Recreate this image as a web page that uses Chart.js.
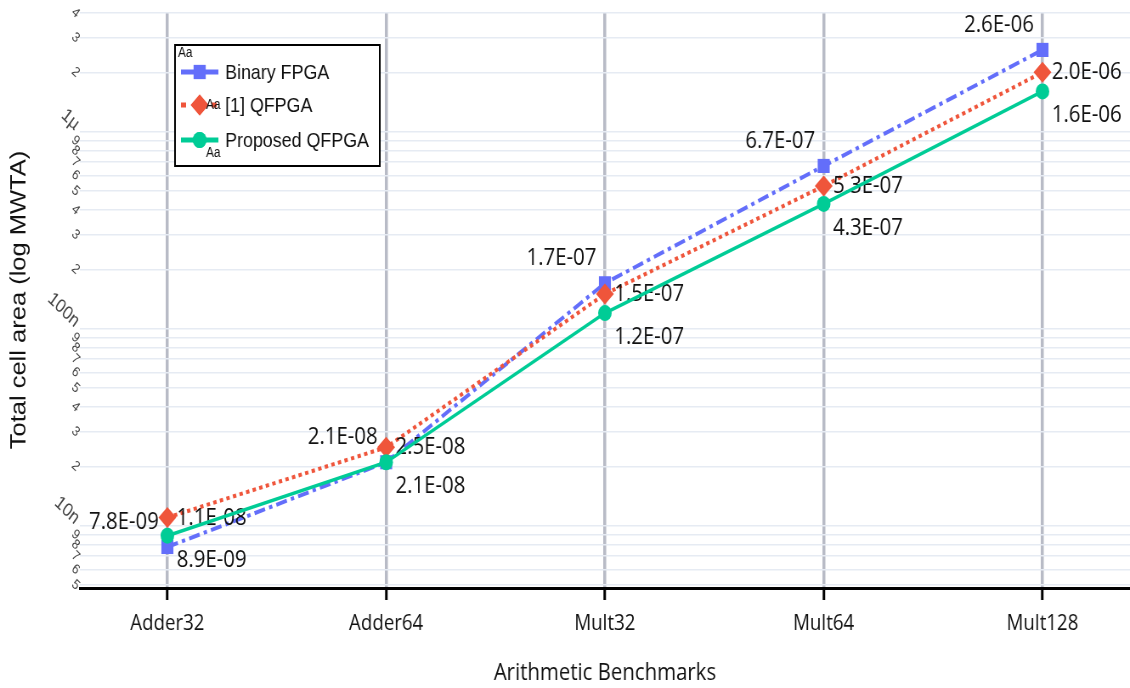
<!DOCTYPE html>
<html>
<head>
<meta charset="utf-8">
<script src="https://cdn.jsdelivr.net/npm/chart.js@4.4.1/dist/chart.umd.min.js"></script>
<style>
  html, body { margin: 0; padding: 0; background: #fff; overflow: hidden; }
  /* the reference is squeezed horizontally, so draw wide and squeeze */
  #wrap { position: absolute; left: 0; top: 0; width: 1330px; height: 688px;
          transform: scaleX(0.8496); transform-origin: 0 0; }
</style>
</head>
<body>
<div id="wrap"><canvas id="areaChart" width="1330" height="688"></canvas></div>
<script>
const categories = ['Adder32', 'Adder64', 'Mult32', 'Mult64', 'Mult128'];
const binaryFpga = [7.8e-9, 2.1e-8, 1.7e-7, 6.7e-7, 2.6e-6];
const qfpgaRef1 = [1.1e-8, 2.5e-8, 1.5e-7, 5.3e-7, 2.0e-6];
const proposedQfpga = [8.9e-9, 2.1e-8, 1.2e-7, 4.3e-7, 1.6e-6];

const yTickValues = [
    5e-9, 6e-9, 7e-9, 8e-9, 9e-9,
    1e-8, 2e-8, 3e-8, 4e-8, 5e-8, 6e-8, 7e-8, 8e-8, 9e-8,
    1e-7, 2e-7, 3e-7, 4e-7, 5e-7, 6e-7, 7e-7, 8e-7, 9e-7,
    1e-6, 2e-6, 3e-6, 4e-6
];
const yTickLabels = [
    '5', '6', '7', '8', '9',
    '10n', '2', '3', '4', '5', '6', '7', '8', '9',
    '100n', '2', '3', '4', '5', '6', '7', '8', '9',
    '1µ', '2', '3', '4'
];

const BLUE = '#636efa';
const RED = '#ef553b';
const GREEN = '#00cc96';

function fmtExp(v) {
    // 7.8e-9 -> 7.8E-09
    return v.toExponential(1).toUpperCase().replace(/E([+-])(\d)$/, 'E$10$2');
}

// where each series puts its value text (plotly textposition)
const labelPlacement = [
    { align: 'right', dx: -10, dy: -18 },  // top left
    { align: 'left', dx: 11, dy: 7 },      // middle right
    { align: 'left', dx: 11, dy: 31 }      // bottom right
];

const valueLabels = {
    id: 'valueLabels',
    afterDatasetDraw(chart, args) {
        const ctx = chart.ctx;
        const ds = chart.data.datasets[args.index];
        const place = labelPlacement[args.index];
        ctx.save();
        ctx.font = '24px "Open Sans", "Noto Sans", sans-serif';
        ctx.fillStyle = '#111';
        ctx.textAlign = place.align;
        ctx.textBaseline = 'alphabetic';
        args.meta.data.forEach((pt, i) => {
            ctx.fillText(fmtExp(ds.data[i].y), pt.x + place.dx, pt.y + place.dy);
        });
        ctx.restore();
    }
};

// slanted y tick text, like the plotly log axis
const slantedYTicks = {
    id: 'slantedYTicks',
    afterDraw(chart) {
        const ctx = chart.ctx;
        const yScale = chart.scales.y;
        ctx.save();
        ctx.fillStyle = '#444';
        ctx.textBaseline = 'middle';
        yTickValues.forEach((v, i) => {
            const text = yTickLabels[i];
            const y = yScale.getPixelForValue(v);
            const isDecade = text.length > 1;
            ctx.save();
            if (isDecade) {
                ctx.translate(91, y - 5);
                ctx.rotate(40 * Math.PI / 180);
                ctx.font = '19px "Liberation Sans", Arial, sans-serif';
                ctx.textAlign = 'right';
            } else {
                ctx.translate(89, y);
                ctx.rotate(40 * Math.PI / 180);
                ctx.font = '14px "Liberation Sans", Arial, sans-serif';
                ctx.textAlign = 'center';
            }
            ctx.fillText(text, 0, 0);
            ctx.restore();
        });
        ctx.restore();
    }
};

const boxLegend = {
    id: 'boxLegend',
    afterDraw(chart) {
        const ctx = chart.ctx;
        ctx.save();
        ctx.fillStyle = '#fff';
        ctx.fillRect(206, 45, 241, 121);
        ctx.strokeStyle = '#000';
        ctx.lineWidth = 2;
        ctx.strokeRect(206, 45, 241, 121);

        const rows = [72, 105, 140];
        const aa = [[218, 53], [251, 105], [251, 153]];
        chart.data.datasets.forEach((ds, i) => {
            const y = rows[i];
            ctx.strokeStyle = ds.borderColor;
            ctx.lineWidth = 5;
            ctx.setLineDash(ds.legendDash || []);
            ctx.beginPath();
            ctx.moveTo(213, y);
            ctx.lineTo(257, y);
            ctx.stroke();
            ctx.setLineDash([]);
            ctx.fillStyle = ds.borderColor;
            Chart.helpers.drawPoint(ctx, {
                pointStyle: ds.pointStyle, radius: ds.pointRadius, borderWidth: 0, rotation: 0
            }, 235, y);
            ctx.fill();

            ctx.fillStyle = '#111';
            ctx.font = '21px "Liberation Sans", Arial, sans-serif';
            ctx.textAlign = 'left';
            ctx.textBaseline = 'middle';
            ctx.fillText(ds.label, 265, y + 1);

            ctx.font = '14px "Liberation Sans", Arial, sans-serif';
            ctx.textAlign = 'center';
            ctx.fillText('Aa', aa[i][0], aa[i][1]);
        });
        ctx.restore();
    }
};

function toPoints(values) {
    return values.map((v, i) => ({ x: i, y: v }));
}

const ctx = document.getElementById('areaChart').getContext('2d');

new Chart(ctx, {
    type: 'line',
    data: {
        datasets: [
            {
                label: 'Binary FPGA',
                data: toPoints(binaryFpga),
                borderColor: BLUE,
                backgroundColor: BLUE,
                borderWidth: 4,
                borderDash: [13, 5, 4, 5],
                pointStyle: 'rect',
                pointRadius: 10,
                pointBorderWidth: 0,
                pointBackgroundColor: BLUE,
                order: 3
            },
            {
                label: '[1] QFPGA',
                data: toPoints(qfpgaRef1),
                borderColor: RED,
                backgroundColor: RED,
                borderWidth: 4,
                borderDash: [4, 4],
                legendDash: [6, 30],
                pointStyle: 'rectRot',
                pointRadius: 10.5,
                pointBorderWidth: 0,
                pointBackgroundColor: RED,
                order: 2
            },
            {
                label: 'Proposed QFPGA',
                data: toPoints(proposedQfpga),
                borderColor: GREEN,
                backgroundColor: GREEN,
                borderWidth: 3.5,
                pointStyle: 'circle',
                pointRadius: 8,
                pointBorderWidth: 0,
                pointBackgroundColor: GREEN,
                order: 1
            }
        ]
    },
    options: {
        responsive: false,
        devicePixelRatio: 1,
        animation: false,
        events: [],
        layout: { autoPadding: false, padding: { top: 12, right: 0, bottom: 0, left: 0 } },
        elements: { line: { tension: 0 } },
        scales: {
            x: {
                type: 'linear',
                min: -0.4,
                max: 4.4,
                afterBuildTicks: s => { s.ticks = categories.map((c, i) => ({ value: i })); },
                afterFit: s => { s.height = 100; },
                ticks: {
                    callback: v => categories[v],
                    font: { family: 'Open Sans', size: 22 },
                    color: '#111',
                    padding: 11,
                    maxRotation: 0,
                    autoSkip: false
                },
                grid: {
                    color: '#b8bbc6',
                    lineWidth: 3.5,
                    tickColor: '#000',
                    tickWidth: 3,
                    tickLength: 12
                },
                border: { display: true, color: '#000', width: 3 },
                title: {
                    display: true,
                    text: 'Arithmetic Benchmarks',
                    font: { family: 'Open Sans', size: 24 },
                    color: '#111',
                    padding: { top: 0, bottom: 0 }
                }
            },
            y: {
                type: 'logarithmic',
                min: 4.83e-9,
                max: 4.05e-6,
                afterBuildTicks: s => { s.ticks = yTickValues.map(v => ({ value: v })); },
                afterFit: s => { s.width = 94; },
                ticks: { display: false },
                grid: {
                    color: '#e6ebf3',
                    lineWidth: 1.5,
                    drawTicks: false
                },
                border: { display: false },
                title: {
                    display: true,
                    text: 'Total cell area (log MWTA)',
                    font: { family: '"Liberation Sans", Arial, sans-serif', size: 25.5 },
                    color: '#111',
                    padding: { top: 8, bottom: 0 }
                }
            }
        },
        plugins: {
            legend: { display: false },
            tooltip: { enabled: false }
        }
    },
    plugins: [valueLabels, slantedYTicks, boxLegend]
});
</script>
</body>
</html>
